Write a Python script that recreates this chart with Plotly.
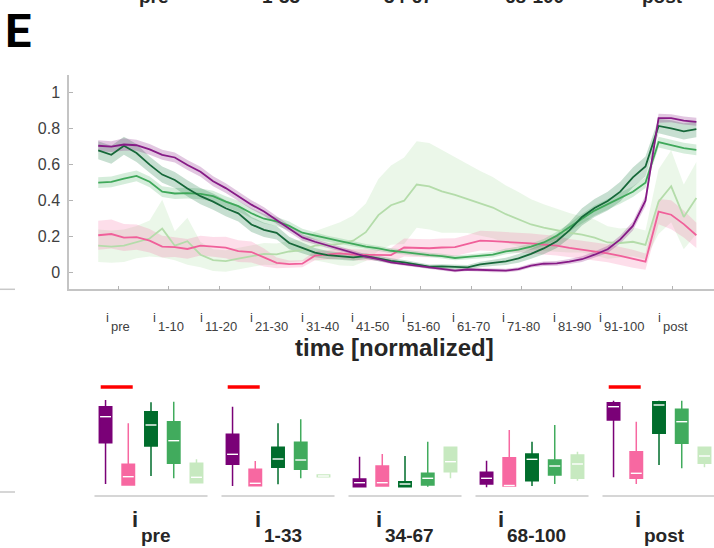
import plotly.graph_objects as go

# ------------------ Top panel: mean +/- sem over normalized time ------------------

time_bins = [
    -9.0, -6.4, -3.9, -1.4, 1.2, 3.7, 6.2, 8.7,
    11.3, 13.8, 16.3, 18.8, 21.4, 23.9, 26.4, 28.9,
    31.5, 34.0, 36.5, 39.0, 41.6, 44.1, 46.6, 49.1,
    51.7, 54.2, 56.7, 59.2, 61.8, 64.3, 66.8, 69.3,
    71.9, 74.4, 76.9, 79.4, 82.0, 84.5, 87.0, 89.5,
    92.1, 94.6, 97.1, 99.6, 102.2, 104.7, 107.2, 109.7,
]

tick_pos = [-5, 5, 15, 25, 35, 45, 55, 65, 75, 85, 95, 105]
tick_sub = ["pre", "1-10", "11-20", "21-30", "31-40", "41-50",
            "51-60", "61-70", "71-80", "81-90", "91-100", "post"]
y_ticks = [0, 0.2, 0.4, 0.6, 0.8, 1]
y_ticktext = ["0", "0.2", "0.4", "0.6", "0.8", "1"]

purple_mean = [
    0.705, 0.700, 0.712, 0.708, 0.685, 0.655, 0.640, 0.598,
    0.561, 0.508, 0.470, 0.425, 0.378, 0.340, 0.293, 0.245,
    0.196, 0.172, 0.152, 0.135, 0.112, 0.090, 0.075, 0.058,
    0.048, 0.040, 0.028, 0.022, 0.012, 0.018, 0.016, 0.011,
    0.012, 0.020, 0.040, 0.050, 0.052, 0.062, 0.075, 0.100,
    0.130, 0.185, 0.260, 0.400, 0.858, 0.858, 0.845, 0.838,
]
purple_sem = [
    0.030, 0.030, 0.035, 0.030, 0.030, 0.028, 0.028, 0.028,
    0.028, 0.028, 0.027, 0.026, 0.025, 0.024, 0.022, 0.020,
    0.018, 0.016, 0.015, 0.014, 0.013, 0.012, 0.011, 0.010,
    0.010, 0.010, 0.009, 0.009, 0.009, 0.009, 0.009, 0.009,
    0.010, 0.010, 0.011, 0.012, 0.013, 0.014, 0.016, 0.018,
    0.020, 0.022, 0.025, 0.030, 0.025, 0.022, 0.022, 0.022,
]

dgreen_mean = [
    0.680, 0.655, 0.705, 0.665, 0.600, 0.545, 0.515, 0.468,
    0.425, 0.395, 0.358, 0.330, 0.268, 0.238, 0.222, 0.165,
    0.138, 0.112, 0.098, 0.090, 0.085, 0.092, 0.080, 0.066,
    0.058, 0.046, 0.034, 0.035, 0.032, 0.030, 0.046, 0.055,
    0.063, 0.080, 0.105, 0.135, 0.175, 0.235, 0.310, 0.360,
    0.398, 0.450, 0.530, 0.590, 0.815, 0.802, 0.785, 0.797,
]
dgreen_sem = [
    0.050, 0.050, 0.050, 0.050, 0.045, 0.045, 0.045, 0.045,
    0.045, 0.045, 0.045, 0.045, 0.042, 0.040, 0.038, 0.035,
    0.030, 0.026, 0.022, 0.020, 0.018, 0.016, 0.015, 0.014,
    0.013, 0.012, 0.012, 0.012, 0.012, 0.013, 0.015, 0.018,
    0.020, 0.024, 0.028, 0.032, 0.038, 0.044, 0.048, 0.050,
    0.052, 0.055, 0.055, 0.055, 0.040, 0.045, 0.045, 0.045,
]

mgreen_mean = [
    0.500, 0.505, 0.522, 0.538, 0.505, 0.450, 0.440, 0.442,
    0.438, 0.425, 0.395, 0.370, 0.330, 0.300, 0.285, 0.260,
    0.222, 0.205, 0.188, 0.175, 0.160, 0.145, 0.135, 0.122,
    0.115, 0.105, 0.098, 0.092, 0.082, 0.088, 0.095, 0.100,
    0.118, 0.128, 0.145, 0.168, 0.205, 0.250, 0.300, 0.345,
    0.380, 0.413, 0.450, 0.500, 0.725, 0.708, 0.692, 0.682,
]
mgreen_sem = [
    0.030, 0.030, 0.030, 0.030, 0.030, 0.030, 0.030, 0.030,
    0.030, 0.030, 0.030, 0.030, 0.028, 0.026, 0.025, 0.024,
    0.022, 0.020, 0.018, 0.017, 0.016, 0.015, 0.014, 0.014,
    0.014, 0.014, 0.013, 0.013, 0.013, 0.013, 0.014, 0.015,
    0.016, 0.017, 0.018, 0.020, 0.022, 0.024, 0.026, 0.028,
    0.030, 0.030, 0.030, 0.030, 0.030, 0.030, 0.030, 0.030,
]

pink_mean = [
    0.208, 0.215, 0.195, 0.198, 0.178, 0.145, 0.142, 0.132,
    0.150, 0.144, 0.140, 0.120, 0.115, 0.085, 0.055, 0.048,
    0.050, 0.095, 0.100, 0.108, 0.100, 0.098, 0.098, 0.098,
    0.140, 0.138, 0.136, 0.140, 0.142, 0.160, 0.178, 0.175,
    0.172, 0.168, 0.163, 0.156, 0.150, 0.138, 0.128, 0.118,
    0.108, 0.093, 0.078, 0.062, 0.339, 0.322, 0.270, 0.208,
]
pink_sem = [
    0.080, 0.080, 0.075, 0.070, 0.065, 0.060, 0.055, 0.055,
    0.055, 0.055, 0.060, 0.060, 0.058, 0.050, 0.030, 0.020,
    0.020, 0.025, 0.025, 0.030, 0.030, 0.030, 0.030, 0.040,
    0.050, 0.050, 0.050, 0.050, 0.050, 0.050, 0.055, 0.055,
    0.055, 0.055, 0.055, 0.055, 0.055, 0.050, 0.050, 0.050,
    0.050, 0.050, 0.050, 0.045, 0.070, 0.080, 0.075, 0.070,
]

lgreen_mean = [
    0.150, 0.145, 0.150, 0.170, 0.190, 0.245, 0.150, 0.175,
    0.100, 0.070, 0.065, 0.078, 0.092, 0.105, 0.102, 0.118,
    0.125, 0.150, 0.155, 0.160, 0.178, 0.225, 0.320, 0.375,
    0.400, 0.490, 0.480, 0.452, 0.432, 0.410, 0.385, 0.362,
    0.325, 0.298, 0.268, 0.250, 0.235, 0.222, 0.212, 0.195,
    0.168, 0.165, 0.172, 0.155, 0.395, 0.480, 0.310, 0.415,
]
lgreen_sem = [
    0.090, 0.090, 0.090, 0.090, 0.100, 0.160, 0.080, 0.130,
    0.070, 0.060, 0.060, 0.060, 0.060, 0.060, 0.060, 0.060,
    0.060, 0.080, 0.100, 0.120, 0.140, 0.160, 0.200, 0.220,
    0.240, 0.240, 0.240, 0.230, 0.210, 0.190, 0.180, 0.170,
    0.160, 0.150, 0.140, 0.130, 0.120, 0.110, 0.100, 0.100,
    0.090, 0.080, 0.080, 0.080, 0.180, 0.200, 0.180, 0.200,
]

# ------------------ Bottom panel: box summaries per epoch ------------------

box_groups = ["pre", "1-33", "34-67", "68-100", "post"]
sig_groups = [0, 1, 4]  # red bar over purple vs pink

purple_box = dict(lower=[0.12, 0.10, 0.093, 0.087, 0.187],
                  q1=[0.533, 0.317, 0.093, 0.12, 0.76],
                  med=[0.793, 0.417, 0.133, 0.177, 0.893],
                  q3=[0.893, 0.617, 0.17, 0.237, 0.933],
                  upper=[0.96, 0.893, 0.393, 0.353, 0.953])
pink_box = dict(lower=[0.11, 0.103, 0.10, 0.10, 0.12],
                q1=[0.11, 0.103, 0.10, 0.10, 0.177],
                med=[0.193, 0.127, 0.133, 0.105, 0.227],
                q3=[0.317, 0.267, 0.30, 0.383, 0.443],
                upper=[0.727, 0.35, 0.42, 0.66, 0.743])
dgreen_box = dict(lower=[0.20, 0.117, 0.093, 0.10, 0.31],
                  q1=[0.50, 0.287, 0.093, 0.153, 0.627],
                  med=[0.71, 0.37, 0.12, 0.367, 0.91],
                  q3=[0.843, 0.487, 0.143, 0.42, 0.943],
                  upper=[0.937, 0.727, 0.40, 0.543, 0.953])
mgreen_box = dict(lower=[0.177, 0.177, 0.093, 0.12, 0.277],
                  q1=[0.327, 0.267, 0.11, 0.21, 0.527],
                  med=[0.553, 0.36, 0.177, 0.30, 0.743],
                  q3=[0.743, 0.537, 0.227, 0.36, 0.867],
                  upper=[0.943, 0.767, 0.543, 0.71, 0.953])
lgreen_box = dict(lower=[0.133, 0.193, 0.177, 0.153, 0.287],
                  q1=[0.133, 0.193, 0.243, 0.177, 0.327],
                  med=[0.187, 0.20, 0.343, 0.32, 0.40],
                  q3=[0.327, 0.21, 0.487, 0.41, 0.487],
                  upper=[0.367, 0.21, 0.49, 0.443, 0.487])

# name, line colour, band colour, box colour
series = [
    ("light green", "#b4dcaa", "rgba(199,233,192,0.35)", "#c7e9c0", lgreen_mean, lgreen_sem, lgreen_box),
    ("pink", "#f0609a", "rgba(247,104,161,0.22)", "#f768a1", pink_mean, pink_sem, pink_box),
    ("medium green", "#3fa85a", "rgba(65,171,93,0.22)", "#41ab5d", mgreen_mean, mgreen_sem, mgreen_box),
    ("dark green", "#17683a", "rgba(0,109,44,0.22)", "#006d2c", dgreen_mean, dgreen_sem, dgreen_box),
    ("purple", "#861b86", "rgba(122,1,119,0.22)", "#7a0177", purple_mean, purple_sem, purple_box),
]
box_order = ["purple", "pink", "dark green", "medium green", "light green"]

W, H = 714, 548
FONT = "Liberation Sans, Arial, sans-serif"


def py(p):  # pixel row -> paper y
    return 1 - p / H


# rough Arial advance widths (em) for placing the "i" + subscript labels
REG = {"i": .222, "p": .556, "r": .333, "e": .556, "o": .556, "s": .5, "t": .278, "-": .333}
BLD = {"i": .278, "p": .611, "r": .389, "e": .556, "o": .611, "s": .556, "t": .333, "-": .333}


def text_w(s, size, table):
    return sum(table.get(c, .556) for c in s) * size


fig = go.Figure()

# bands first, then lines
for name, lc, bc, _, m, s, _ in series:
    up = [a + b for a, b in zip(m, s)]
    lo = [a - b for a, b in zip(m, s)]
    fig.add_trace(go.Scatter(x=time_bins + time_bins[::-1], y=up + lo[::-1],
                             fill="toself", fillcolor=bc, line=dict(width=0),
                             mode="lines", hoverinfo="skip", showlegend=False))
for name, lc, bc, _, m, s, _ in series:
    fig.add_trace(go.Scatter(x=time_bins, y=m, mode="lines", name=name,
                             line=dict(color=lc, width=1.8), showlegend=False))

# boxes
lookup = {sv[0]: sv for sv in series}
offsets = [-0.358, -0.179, 0.0, 0.179, 0.358]
med_x, med_y = [], []
for k, name in enumerate(box_order):
    _, _, _, col, _, _, st = lookup[name]
    pos = [g + offsets[k] for g in range(len(box_groups))]
    fig.add_trace(go.Box(x=pos, q1=st["q1"], median=st["med"], q3=st["q3"],
                         lowerfence=st["lower"], upperfence=st["upper"],
                         orientation="v", fillcolor=col, width=0.098, whiskerwidth=0,
                         line=dict(color=col, width=1.5), xaxis="x2", yaxis="y2",
                         hoverinfo="skip", showlegend=False))
    for p, mv in zip(pos, st["med"]):
        med_x += [p - 0.043, p + 0.043, None]
        med_y += [mv, mv, None]
fig.add_trace(go.Scatter(x=med_x, y=med_y, mode="lines", line=dict(color="white", width=1.4),
                         xaxis="x2", yaxis="y2", hoverinfo="skip", showlegend=False))

# significance bars
red_x, red_y = [], []
for g in sig_groups:
    red_x += [g + offsets[0] - 0.038, g + offsets[1] + 0.035, None]
    red_y += [1.09, 1.09, None]
fig.add_trace(go.Scatter(x=red_x, y=red_y, mode="lines", line=dict(color="#ff0000", width=3.5),
                         xaxis="x2", yaxis="y2", hoverinfo="skip", showlegend=False))

shapes = []
for g in range(len(box_groups)):
    shapes.append(dict(type="line", xref="x2", yref="y2", x0=g - 0.445, x1=g + 0.445, y0=0, y1=0,
                       line=dict(color="#c8c8c8", width=1.5)))
# bits of the neighbouring panel at the left edge
for p in (289.3, 492):
    shapes.append(dict(type="line", xref="paper", yref="paper", x0=0, x1=15 / W, y0=py(p), y1=py(p),
                       line=dict(color="#c8c8c8", width=1.5)))

annotations = []
# top x tick labels: "i" with a dropped subscript
for t, sub in zip(tick_pos, tick_sub):
    wi, ws = text_w("i", 13, REG), text_w(sub, 13, REG)
    sh = (wi - ws) / 2
    annotations.append(dict(x=t, y=py(317), xref="x", yref="paper", text="i", showarrow=False,
                            xanchor="right", yanchor="middle", xshift=sh, borderpad=0,
                            font=dict(family=FONT, size=13, color="#404040")))
    annotations.append(dict(x=t, y=py(326), xref="x", yref="paper", text=sub, showarrow=False,
                            xanchor="left", yanchor="middle", xshift=sh, borderpad=0,
                            font=dict(family=FONT, size=13, color="#404040")))

annotations.append(dict(x=394 / W, y=py(347), xref="paper", yref="paper",
                        text="<b>time [normalized]</b>", showarrow=False,
                        xanchor="center", yanchor="middle",
                        font=dict(family=FONT, size=24, color="#262626")))

# bottom group labels
for g, sub in enumerate(box_groups):
    wi, ws = text_w("i", 22, BLD), text_w(sub, 19, BLD)
    sh = (wi - ws) / 2
    annotations.append(dict(x=g, y=py(519), xref="x2", yref="paper", text="<b>i</b>", showarrow=False,
                            xanchor="right", yanchor="middle", xshift=sh - 0.5, borderpad=0,
                            font=dict(family=FONT, size=22, color="#262626")))
    annotations.append(dict(x=g, y=py(535), xref="x2", yref="paper", text="<b>%s</b>" % sub,
                            showarrow=False, xanchor="left", yanchor="middle", xshift=sh + 0.5,
                            borderpad=0, font=dict(family=FONT, size=19, color="#262626")))
    # the same labels of the panel above, cut by the top edge
    annotations.append(dict(x=g, y=py(-3.5), xref="x2", yref="paper", text="<b>%s</b>" % sub,
                            showarrow=False, xanchor="left", yanchor="middle", xshift=sh - 1,
                            borderpad=0, font=dict(family=FONT, size=19, color="#262626")))

annotations.append(dict(x=4 / W, y=py(31), xref="paper", yref="paper", text="<b>E</b>",
                        showarrow=False, xanchor="left", yanchor="middle", borderpad=0,
                        font=dict(family="Roboto, Liberation Sans, sans-serif", size=47, color="black")))

fig.update_layout(
    width=W, height=H,
    margin=dict(l=0, r=0, t=0, b=0),
    paper_bgcolor="white", plot_bgcolor="white",
    showlegend=False,
    xaxis=dict(domain=[69 / W, 1], range=[-14.8, 113.2], anchor="y",
               showline=True, linecolor="#c4c4c4", linewidth=1.5,
               ticks="inside", ticklen=4, tickcolor="#b4b4b4", tickwidth=1,
               tickvals=tick_pos, showticklabels=False, showgrid=False, zeroline=False),
    yaxis=dict(domain=[py(289.3), py(75)], range=[-0.092, 1.098], anchor="x",
               showline=True, linecolor="#c4c4c4", linewidth=1.5,
               ticks="inside", ticklen=4, tickcolor="#b4b4b4", tickwidth=1,
               tickvals=y_ticks, ticktext=y_ticktext, ticklabelstandoff=4,
               tickfont=dict(family=FONT, size=16, color="#404040"),
               showgrid=False, zeroline=False),
    xaxis2=dict(domain=[0, 1], range=[-1.189, 4.433], anchor="y2", visible=False),
    yaxis2=dict(domain=[py(500), py(380)], range=[-0.04, 1.16], anchor="x2", visible=False),
    shapes=shapes,
    annotations=annotations,
)

# drop the browser's default 8px body margin so the figure sits at the page corner
fig.write_html("out.html", config={"displayModeBar": False},
               post_script="document.body.style.margin='0';")
